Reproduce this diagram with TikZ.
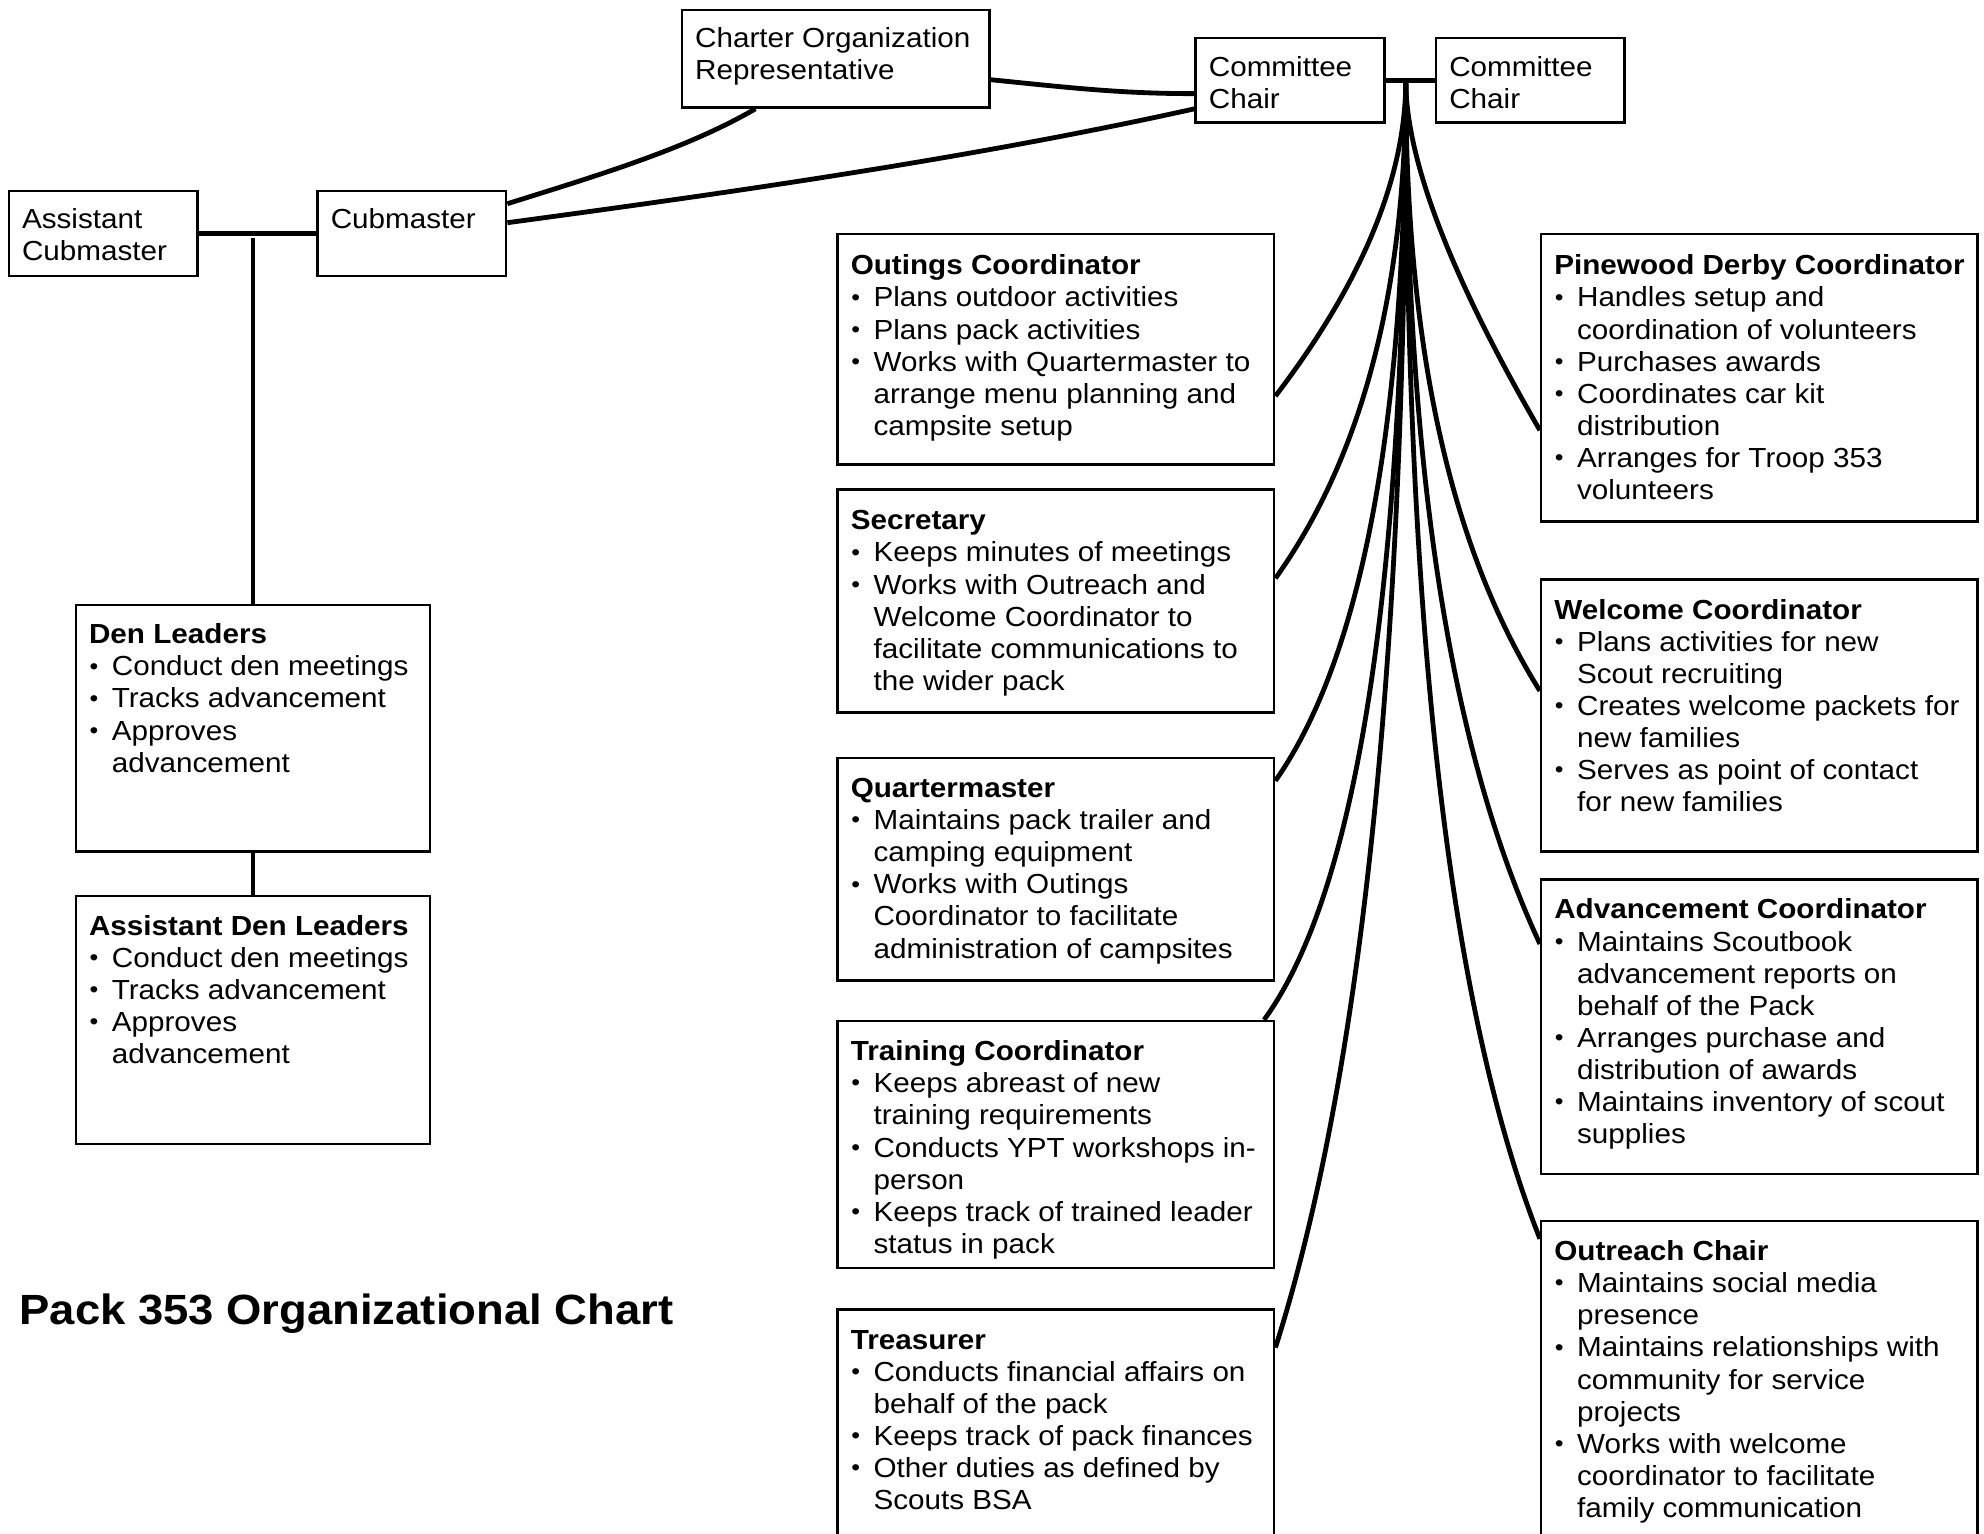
\documentclass[tikz,border=0pt]{standalone}
\usepackage{fontspec}
\setmainfont{Liberation Sans}[FakeStretch=1.075]
\usetikzlibrary{calc,fit}
\newcommand\bul{\makebox[9pt][l]{\hspace{0.2pt}\raisebox{0.7pt}{\fontsize{9.2}{9.2}\selectfont\textbullet}}}
\newcommand\ind{\hspace*{9pt}}
\newcommand\fs{\rule{0pt}{10pt}}
\begin{document}
\begin{tikzpicture}[x=0.5pt,y=-0.5pt,
  box/.style={draw, line width=1pt, inner sep=0pt},
  txt/.style={anchor=north west, inner sep=0pt, align=left, font=\fontsize{10.9}{12.7}\selectfont},
  link/.style={line width=1.9pt}]
\clip (0,0) rectangle (1568,1212);
\fill[white] (0,0) rectangle (1568,1212);

% boxes
\node[box, fit={(7,151) (156,218)}] (acm) {};
\node[box, fit={(251,151) (400,218)}] (cub) {};
\node[box, fit={(539,8) (782,85)}] (cor) {};
\node[box, fit={(945,30) (1094,97)}] (cc1) {};
\node[box, fit={(1135,30) (1284,97)}] (cc2) {};
\node[box, fit={(60,478) (340,673)}] (den) {};
\node[box, fit={(60,708) (340,904)}] (aden) {};
\node[box, fit={(662,185) (1007,367)}] (outc) {};
\node[box, fit={(662,387) (1007,563)}] (sec) {};
\node[box, fit={(662,599) (1007,775)}] (qm) {};
\node[box, fit={(662,807) (1007,1002)}] (trn) {};
\node[box, fit={(662,1035) (1007,1240)}] (tre) {};
\node[box, fit={(1218,185) (1563,412)}] (pin) {};
\node[box, fit={(1218,458) (1563,673)}] (wel) {};
\node[box, fit={(1218,695) (1563,928)}] (adv) {};
\node[box, fit={(1218,965) (1563,1240)}] (outr) {};

% texts
\node[txt] (tacm) at ($(acm.north west)+(11,10.3)$) {\fs Assistant\\Cubmaster};
\node[txt] (tcub) at ($(cub.north west)+(11,10.3)$) {\fs Cubmaster};
\node[txt] (tcor) at ($(cor.north west)+(11,10.3)$) {\fs Charter Organization\\Representative};
\node[txt] (tcc1) at ($(cc1.north west)+(11,10.8)$) {\fs Committee\\Chair};
\node[txt] (tcc2) at ($(cc2.north west)+(11,10.8)$) {\fs Committee\\Chair};

\node[txt] (tden) at ($(den.north west)+(11,11.3)$) {\fs\textbf{Den Leaders}\\
\bul Conduct den meetings\\
\bul Tracks advancement\\
\bul Approves\\
\ind advancement};
\node[txt] (taden) at ($(aden.north west)+(11,11.8)$) {\fs\textbf{Assistant Den Leaders}\\
\bul Conduct den meetings\\
\bul Tracks advancement\\
\bul Approves\\
\ind advancement};

\node[txt] (toutc) at ($(outc.north west)+(11,12.8)$) {\fs\textbf{Outings Coordinator}\\
\bul Plans outdoor activities\\
\bul Plans pack activities\\
\bul Works with Quartermaster to\\
\ind arrange menu planning and\\
\ind campsite setup};
\node[txt] (tsec) at ($(sec.north west)+(11,12.3)$) {\fs\textbf{Secretary}\\
\bul Keeps minutes of meetings\\
\bul Works with Outreach and\\
\ind Welcome Coordinator to\\
\ind facilitate communications to\\
\ind the wider pack};
\node[txt] (tqm) at ($(qm.north west)+(11,11.8)$) {\fs\textbf{Quartermaster}\\
\bul Maintains pack trailer and\\
\ind camping equipment\\
\bul Works with Outings\\
\ind Coordinator to facilitate\\
\ind administration of campsites};
\node[txt] (ttrn) at ($(trn.north west)+(11,11.8)$) {\fs\textbf{Training Coordinator}\\
\bul Keeps abreast of new\\
\ind training requirements\\
\bul Conducts YPT workshops in-\\
\ind person\\
\bul Keeps track of trained leader\\
\ind status in pack};
\node[txt] (ttre) at ($(tre.north west)+(11,11.8)$) {\fs\textbf{Treasurer}\\
\bul Conducts financial affairs on\\
\ind behalf of the pack\\
\bul Keeps track of pack finances\\
\bul Other duties as defined by\\
\ind Scouts BSA};
\node[txt] (tpin) at ($(pin.north west)+(11,12.8)$) {\fs\textbf{Pinewood Derby Coordinator}\\
\bul Handles setup and\\
\ind coordination of volunteers\\
\bul Purchases awards\\
\bul Coordinates car kit\\
\ind distribution\\
\bul Arranges for Troop 353\\
\ind volunteers};
\node[txt] (twel) at ($(wel.north west)+(11,11.8)$) {\fs\textbf{Welcome Coordinator}\\
\bul Plans activities for new\\
\ind Scout recruiting\\
\bul Creates welcome packets for\\
\ind new families\\
\bul Serves as point of contact\\
\ind for new families};
\node[txt] (tadv) at ($(adv.north west)+(11,11.8)$) {\fs\textbf{Advancement Coordinator}\\
\bul Maintains Scoutbook\\
\ind advancement reports on\\
\ind behalf of the Pack\\
\bul Arranges purchase and\\
\ind distribution of awards\\
\bul Maintains inventory of scout\\
\ind supplies};
\node[txt] (toutr) at ($(outr.north west)+(11,11.8)$) {\fs\textbf{Outreach Chair}\\
\bul Maintains social media\\
\ind presence\\
\bul Maintains relationships with\\
\ind community for service\\
\ind projects\\
\bul Works with welcome\\
\ind coordinator to facilitate\\
\ind family communication};

\node[anchor=base west, inner sep=0pt, font=\bfseries\fontsize{16.7}{20}\selectfont] (title) at (15,1047) {Pack 353 Organizational Chart};

% connectors
\coordinate (dtop) at ($(den.north)+(0,-289)$);
\coordinate (fj) at ($(cc1.east)+(16,0)$);
\draw[link] (acm.east) -- (cub.west);
\draw[link] (dtop) -- (den.north);
\draw[link] (den.south) -- (aden.north);
\draw[link] ($(cub.north east)+(0,11)$) .. controls +(70,-22) and +(-55,32) .. ($(cor.south west)+(59,0)$);
\draw[link] ($(cub.east)+(0,-8.5)$) .. controls +(178,-24) and +(-176,39) .. ($(cc1.south west)+(0,-12)$);
\draw[link] ($(cor.east)+(0,16.5)$) .. controls +(60,6) and +(-60,0) .. ($(cc1.west)+(0,10.5)$);
\draw[link] (cc1.east) -- (cc2.west);

\draw[link] (fj) .. controls +(0,77) and +(68,-89) .. ($(outc.north east)+(0,129)$);
\draw[link] (fj) .. controls +(0,167) and +(68,-95) .. ($(sec.north east)+(0,71)$);
\draw[link] (fj) .. controls +(0,272) and +(68,-97) .. ($(qm.north east)+(0,19)$);
\draw[link] (fj) .. controls +(0,391) and +(75,-103) .. ($(trn.north east)+(-9,0)$);
\draw[link] (fj) .. controls +(0,454) and +(68,-214) .. ($(tre.north east)+(0,31)$);
\draw[link] (fj) .. controls +(0,61) and +(-72,-124) .. ($(pin.north west)+(0,156)$);
\draw[link] (fj) .. controls +(0,207) and +(-72,-115) .. ($(wel.north west)+(0,89)$);
\draw[link] (fj) .. controls +(0,301) and +(-72,-155) .. ($(adv.north west)+(0,52)$);
\draw[link] (fj) .. controls +(0,429) and +(-72,-182) .. ($(outr.north west)+(0,15)$);
\end{tikzpicture}
\end{document}
